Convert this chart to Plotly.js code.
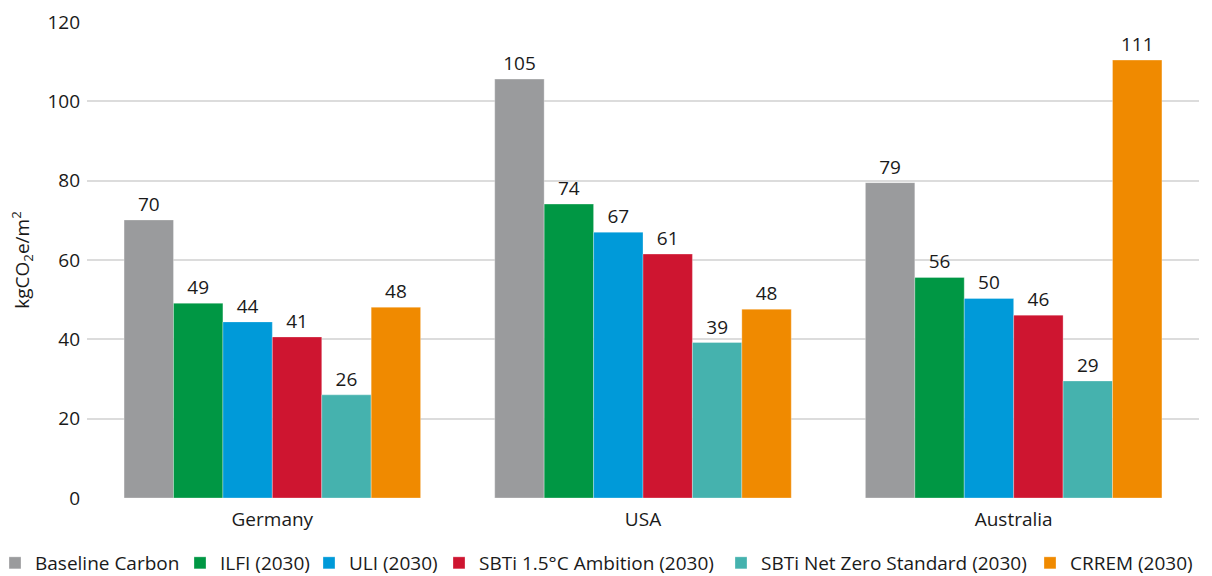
<!DOCTYPE html>
<html>
<head>
<meta charset="utf-8">
<script src="https://cdn.plot.ly/plotly-3.0.1.min.js"></script>
<style>html,body{margin:0;padding:0;background:#fff;}#chart{width:1212px;height:576px;}</style>
</head>
<body>
<div id="chart"></div>
<script>
const countries = ["Germany", "USA", "Australia"];
const seriesNames = ["Baseline Carbon", "ILFI (2030)", "ULI (2030)", "SBTi 1.5°C Ambition (2030)", "SBTi Net Zero Standard (2030)", "CRREM (2030)"];
const baseline = [70.1, 105.6, 79.5];
const ilfi = [49.1, 74.1, 55.6];
const uli = [44.4, 67.0, 50.3];
const sbtiAmbition = [40.6, 61.5, 46.1];
const sbtiNetZero = [26.0, 39.2, 29.5];
const crrem = [48.1, 47.6, 110.4];
const labelsBaseline = ["70", "105", "79"];
const labelsIlfi = ["49", "74", "56"];
const labelsUli = ["44", "67", "50"];
const labelsAmbition = ["41", "61", "46"];
const labelsNetZero = ["26", "39", "29"];
const labelsCrrem = ["48", "48", "111"];
const yTicks = [0, 20, 40, 60, 80, 100, 120];

const colors = ["#9a9b9d", "#009744", "#009ad9", "#ce1530", "#45b2ae", "#f08a00"];
const values = [baseline, ilfi, uli, sbtiAmbition, sbtiNetZero, crrem];
const labels = [labelsBaseline, labelsIlfi, labelsUli, labelsAmbition, labelsNetZero, labelsCrrem];
const FONT = '"Open Sans", "Noto Sans", sans-serif';

// legend text start (px) for each series, to spread the single-row legend like the reference
const legendTextStartPx = [35, 220, 349, 479, 761, 1070];
const plotLeft = 87, plotWidth = 1112, plotBottomPx = 498, plotHeight = 476;

const legendIds = ["legend", "legend2", "legend3", "legend4", "legend5", "legend6"];

const traces = seriesNames.map((name, i) => ({
  type: "bar",
  name: name,
  x: countries,
  y: values[i],
  text: labels[i],
  textposition: "outside",
  textfont: {family: FONT, size: 19, color: "#1a1a1a"},
  cliponaxis: false,
  legend: legendIds[i],
  marker: {color: colors[i], line: {color: "rgba(255,255,255,0.5)", width: 0.6}},
  hoverinfo: "x+y+name"
}));

const layout = {
  width: 1212, height: 576,
  margin: {l: plotLeft, r: 1212 - plotLeft - plotWidth, t: 22, b: 576 - plotBottomPx, autoexpand: false},
  paper_bgcolor: "#fff", plot_bgcolor: "#fff",
  font: {family: FONT, size: 19, color: "#1a1a1a"},
  barmode: "group",
  bargap: 0.2,
  bargroupgap: 0,
  showlegend: true,
  xaxis: {
    type: "category", showgrid: false, zeroline: false, showline: false,
    ticks: "", ticklabelstandoff: 8,
    tickfont: {family: FONT, size: 19, color: "#1a1a1a"},
    automargin: false
  },
  yaxis: {
    range: [0, 120], tickvals: yTicks, ticktext: yTicks.map(String),
    showgrid: true, gridcolor: "#dcdcdc", gridwidth: 2,
    zeroline: false, showline: false, ticks: "",
    ticklabelstandoff: 6,
    tickfont: {family: FONT, size: 19, color: "#1a1a1a"},
    title: {text: "kgCO<sub>2</sub>e/m<sup>2</sup>", font: {family: FONT, size: 19, color: "#1a1a1a"}, standoff: 12},
    automargin: false
  }
};

legendIds.forEach((id, i) => {
  layout[id] = {
    orientation: "h",
    xref: "paper", yref: "paper",
    x: (legendTextStartPx[i] - 40 - plotLeft) / plotWidth,
    xanchor: "left",
    y: (plotBottomPx - 563) / plotHeight,
    yanchor: "middle",
    bgcolor: "rgba(0,0,0,0)",
    borderwidth: 0,
    font: {family: FONT, size: 19, color: "#1a1a1a"},
    itemclick: false, itemdoubleclick: false
  };
});

Plotly.newPlot("chart", traces, layout, {displayModeBar: false});
</script>
</body>
</html>
